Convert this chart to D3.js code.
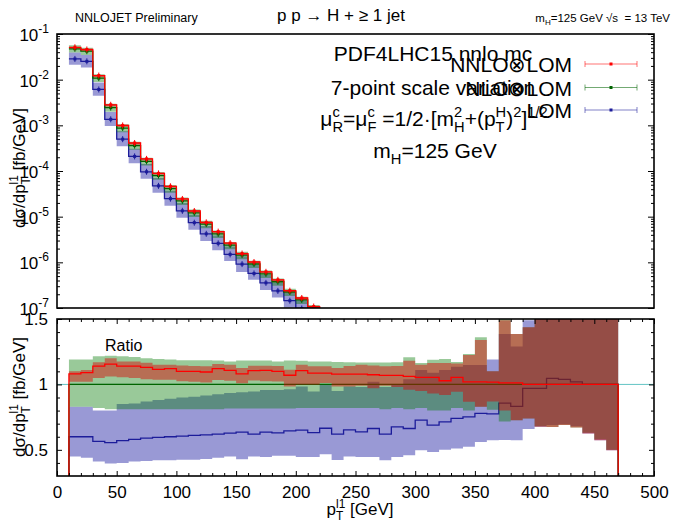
<!DOCTYPE html>
<html lang="en">
<head>
<meta charset="utf-8">
<title>pp -> H + jet, leading jet pT</title>
<script src="https://d3js.org/d3.v7.min.js"></script>
<style>
  body { margin: 0; background: #fff; }
  text { font-family: "Liberation Sans", Arial, Helvetica, sans-serif; fill: #000; white-space: pre; }
</style>
</head>
<body>
<script>
// bin edges of the leading jet pT [GeV]
var edges = [10, 20, 30, 40, 50, 60, 70, 80, 90, 100, 110, 120, 130, 140, 150, 160, 170, 180, 190, 200,
             210, 220, 230, 240, 250, 260, 270, 280, 290, 300, 310, 320, 330, 340, 350, 360, 370, 380, 390, 400,
             410, 420, 430, 440, 450, 460, 470];

// NLO central value in the upper panel [fb/GeV] (below 1e-7 after 220 GeV)
var nloTop = [0.0474, 0.042, 0.0108, 2.44e-3, 8.73e-4, 3.6e-4, 1.63e-4, 7.95e-5, 4.13e-5, 2.22e-5, 1.21e-5,
              6.85e-6, 4.2e-6, 2.38e-6, 1.44e-6, 9.2e-7, 5.6e-7, 3.76e-7, 2.24e-7, 1.5e-7, 9.9e-8, 6.4e-8];

// ratios to NLO central (lower panel)
var rNNLO = [1.08, 1.09, 1.14, 1.155, 1.14, 1.14, 1.13, 1.115, 1.12, 1.10, 1.10, 1.095, 1.12, 1.107, 1.08, 1.105,
             1.107, 1.10, 1.07, 1.105, 1.087, 1.087, 1.079, 1.079, 1.079, 1.074, 1.069, 1.069, 1.061, 1.054, 1.054,
             1.028, 1.054, 1.02, 1.02, 1.018, 1.012, 1.012, 1.0, 1.0, 1.0, 1.0, 1.0, 1.0, 1.0, 1.0];
var nnloLo = [1.02, 1.02, 1.05, 1.06, 1.055, 1.05, 1.04, 1.035, 1.035, 1.025, 1.02, 1.015, 1.033, 1.028, 1.008, 1.03,
              1.025, 1.023, 0.985, 0.997, 0.997, 1.01, 0.985, 0.985, 0.99, 0.97, 0.99, 0.98, 0.96, 0.95, 0.93,
              0.92, 0.944, 0.867, 0.83, 0.87, 0.80, 0.727, 0.74, 0.676, 0.675, 0.69, 0.67, 0.625, 0.574, 0.497];
var nnloHi = [1.10, 1.11, 1.17, 1.20, 1.175, 1.175, 1.165, 1.15, 1.15, 1.145, 1.14, 1.138, 1.156, 1.15, 1.125, 1.143,
              1.143, 1.14, 1.112, 1.15, 1.138, 1.138, 1.125, 1.14, 1.15, 1.145, 1.138, 1.14, 1.18, 1.15, 1.163,
              1.163, 1.16, 1.225, 1.34, 1.10, 1.49, 1.385, 1.436, 1.7, 1.7, 1.7, 1.7, 1.7, 1.7, 1.7];

var rNLO = [1, 1, 1, 1, 1, 1, 1, 1, 1, 1, 1, 1, 1, 1, 1, 1, 1, 1, 1, 1, 1, 1, 1,
            1, 1, 1, 1, 1, 1, 1, 1, 1, 1, 1, 1, 1, 1, 1, 1, 1, 1, 1, 1, 1, 1, 1];
var nloLo = [0.83, 0.83, 0.82, 0.81, 0.81, 0.81, 0.81, 0.81, 0.81, 0.81, 0.81, 0.81, 0.81, 0.815, 0.815, 0.815,
             0.815, 0.815, 0.815, 0.82, 0.82, 0.82, 0.82, 0.82, 0.82, 0.82, 0.81, 0.82, 0.81, 0.82, 0.80,
             0.80, 0.82, 0.80, 0.83, 0.806, 0.717, 0.727, 0.74, 0.68, 0.675, 0.69, 0.67, 0.63, 0.58, 0.50];
var nloHi = [1.19, 1.19, 1.215, 1.22, 1.215, 1.21, 1.20, 1.195, 1.19, 1.185, 1.185, 1.184, 1.182, 1.176, 1.182, 1.182,
             1.182, 1.176, 1.182, 1.18, 1.176, 1.176, 1.171, 1.17, 1.168, 1.168, 1.168, 1.17, 1.207, 1.163, 1.189,
             1.194, 1.171, 1.232, 1.36, 1.10, 1.52, 1.385, 1.436, 1.7, 1.7, 1.7, 1.7, 1.7, 1.7, 1.7];

var rLO = [0.60, 0.60, 0.565, 0.555, 0.57, 0.58, 0.59, 0.595, 0.60, 0.605, 0.61, 0.615, 0.62, 0.627, 0.635, 0.62,
           0.635, 0.63, 0.645, 0.65, 0.632, 0.665, 0.62, 0.653, 0.638, 0.663, 0.62, 0.676, 0.663, 0.727, 0.689,
           0.714, 0.74, 0.752, 0.778, 0.775, 0.857, 0.832, 0.97, 0.97, 1.046, 1.038, 1.02, 1.0, 1.0, 1.0];
var loLo = [0.45, 0.44, 0.41, 0.395, 0.40, 0.41, 0.415, 0.42, 0.42, 0.425, 0.425, 0.43, 0.44, 0.449, 0.428, 0.45,
            0.445, 0.454, 0.454, 0.445, 0.445, 0.466, 0.423, 0.45, 0.446, 0.446, 0.42, 0.446, 0.459, 0.497, 0.484,
            0.50, 0.51, 0.523, 0.56, 0.574, 0.576, 0.574, 0.66, 0.676, 0.69, 0.695, 0.68, 0.625, 0.574, 0.497];
var loHi = [0.83, 0.83, 0.80, 0.80, 0.85, 0.855, 0.87, 0.88, 0.89, 0.90, 0.905, 0.915, 0.925, 0.934, 0.94, 0.946,
            0.958, 0.958, 0.964, 0.985, 0.946, 0.997, 0.95, 0.985, 0.98, 1.02, 0.98, 1.0, 1.04, 1.11, 1.09,
            1.11, 1.135, 1.148, 1.148, 1.19, 1.385, 1.29, 1.49, 1.7, 1.7, 1.7, 1.7, 1.7, 1.7, 1.7];

var legendNames = ["NNLO\u2297LOM", "NLO\u2297LOM", "LOM"];
var yTopTicks = [1e-1, 1e-2, 1e-3, 1e-4, 1e-5, 1e-6, 1e-7];
var yTopExp = ["-1", "-2", "-3", "-4", "-5", "-6", "-7"];
var yRatTicks = [0.5, 1, 1.5];
var xTicks = [0, 50, 100, 150, 200, 250, 300, 350, 400, 450, 500];

var lineCol = { nnlo: "#ff0000", nlo: "#006400", lo: "#1c1c9a" };
var fillCol = { nnlo: "#dc0000", nlo: "#007800", lo: "#000096" };
var fillOp = { nnlo: 0.45, nlo: 0.4, lo: 0.4 };

var W = 675, H = 525;
var svg = d3.select("body").append("svg").attr("width", W).attr("height", H);

var x = d3.scaleLinear().domain([0, 500]).range([57, 654]);
var yTop = d3.scaleLog().domain([1e-7, 1e-1]).range([308, 34]);
var yRat = d3.scaleLinear().domain([0.3, 1.5]).range([476, 319]);

var defs = svg.append("defs");
defs.append("clipPath").attr("id", "clipTop").append("rect")
    .attr("x", x(0)).attr("y", yTop(1e-1)).attr("width", x(500) - x(0)).attr("height", yTop(1e-7) - yTop(1e-1));
defs.append("clipPath").attr("id", "clipRat").append("rect")
    .attr("x", x(0)).attr("y", yRat(1.5)).attr("width", x(500) - x(0)).attr("height", yRat(0.3) - yRat(1.5));

// helpers -------------------------------------------------------------
function bandPath(sc, lo, hi) {
  var pts = [];
  for (var i = 0; i < lo.length; i++) {
    pts.push([edges[i], lo[i], hi[i]]);
    pts.push([edges[i + 1], lo[i], hi[i]]);
  }
  return d3.area().x(function(d) { return x(d[0]); })
    .y0(function(d) { return sc(d[1]); }).y1(function(d) { return sc(d[2]); })(pts);
}
function stepPath(sc, vals, floor) {
  var pts = [];
  if (floor !== undefined) pts.push([edges[0], floor]);
  for (var i = 0; i < vals.length; i++) {
    pts.push([edges[i], vals[i]]);
    pts.push([edges[i + 1], vals[i]]);
  }
  if (floor !== undefined) pts.push([edges[vals.length], floor]);
  return d3.line().x(function(d) { return x(d[0]); }).y(function(d) { return sc(d[1]); })(pts);
}
// text with stacked sub/superscripts; parts = [[main, sub, sup], ...]
function richText(parent, px, py, parts, size, anchor) {
  var g = parent.append("g");
  var cx = 0, small = size * 0.7;
  parts.forEach(function(p) {
    if (p[0]) {
      var t = g.append("text").attr("x", cx).attr("y", 0).style("font-size", size + "px").text(p[0]);
      cx += t.node().getComputedTextLength();
    }
    var w = 0;
    if (p[1]) {
      var s = g.append("text").attr("x", cx).attr("y", size * 0.3).style("font-size", small + "px").text(p[1]);
      w = s.node().getComputedTextLength();
    }
    if (p[2]) {
      var u = g.append("text").attr("x", cx).attr("y", -size * 0.42).style("font-size", small + "px").text(p[2]);
      w = Math.max(w, u.node().getComputedTextLength());
    }
    cx += w;
  });
  var dx = anchor === "middle" ? -cx / 2 : (anchor === "end" ? -cx : 0);
  g.attr("transform", "translate(" + (px + dx) + "," + py + ")");
  return g;
}

// upper panel ---------------------------------------------------------
function times(r) { return nloTop.map(function(v, i) { return v * r[i]; }); }
var topSeries = {
  lo: { c: times(rLO), lo: times(loLo), hi: times(loHi) },
  nlo: { c: times(rNLO), lo: times(nloLo), hi: times(nloHi) },
  nnlo: { c: times(rNNLO), lo: times(nnloLo), hi: times(nnloHi) }
};
var gTop = svg.append("g").attr("clip-path", "url(#clipTop)");
["lo", "nlo", "nnlo"].forEach(function(k) {
  gTop.append("path").attr("d", bandPath(yTop, topSeries[k].lo, topSeries[k].hi))
    .attr("fill", fillCol[k]).attr("fill-opacity", fillOp[k]).attr("stroke", "none");
  gTop.append("path").attr("d", stepPath(yTop, topSeries[k].c))
    .attr("fill", "none").attr("stroke", lineCol[k]).attr("stroke-width", 1.3);
  topSeries[k].c.forEach(function(v, i) {
    var cx = x((edges[i] + edges[i + 1]) / 2), cy = yTop(v);
    gTop.append("line").attr("x1", cx).attr("x2", cx).attr("y1", cy - 3).attr("y2", cy + 3)
      .attr("stroke", lineCol[k]).attr("stroke-width", 1);
    gTop.append("rect").attr("x", cx - 1.5).attr("y", cy - 1.5).attr("width", 3).attr("height", 3)
      .attr("fill", lineCol[k]);
  });
});

// lower panel: each band is drawn followed by its own line ----------------
var gRat = svg.append("g").attr("clip-path", "url(#clipRat)");
gRat.append("line").attr("x1", x(0)).attr("x2", x(500)).attr("y1", yRat(1)).attr("y2", yRat(1))
  .attr("stroke", "#62c4c4").attr("stroke-width", 1);
[["lo", loLo, loHi, rLO], ["nlo", nloLo, nloHi, rNLO], ["nnlo", nnloLo, nnloHi, rNNLO]].forEach(function(b) {
  gRat.append("path").attr("d", bandPath(yRat, b[1], b[2]))
    .attr("fill", fillCol[b[0]]).attr("fill-opacity", fillOp[b[0]]).attr("stroke", "none");
  gRat.append("path").attr("d", stepPath(yRat, b[3], 0))
    .attr("fill", "none").attr("stroke", lineCol[b[0]]).attr("stroke-width", 1.3);
});
svg.append("text").attr("x", 105).attr("y", 351).style("font-size", "16px").text("Ratio");

// axes ----------------------------------------------------------------
function styleAxis(g) {
  g.select(".domain").remove();
  g.selectAll(".tick line").attr("stroke", "#000").attr("stroke-width", 1);
  g.selectAll("text").style("font-family", "'Liberation Sans', Arial, sans-serif").style("font-size", "17px");
}
var minorX = [];
xTicks.forEach(function(t) { if (t < 500) [10, 20, 30, 40].forEach(function(m) { minorX.push(t + m); }); });
var minorR = [0.4, 0.6, 0.7, 0.8, 0.9, 1.1, 1.2, 1.3, 1.4];
var minorL = [];
yTopTicks.forEach(function(t) { if (t < 1e-1) for (var m = 2; m <= 9; m++) minorL.push(t * m); });

// upper y axes
svg.append("g").attr("transform", "translate(" + x(0) + ",0)")
  .call(d3.axisLeft(yTop).tickValues(yTopTicks).tickSize(-6).tickFormat("")).call(styleAxis);
svg.append("g").attr("transform", "translate(" + x(0) + ",0)")
  .call(d3.axisLeft(yTop).tickValues(minorL).tickSize(-3).tickFormat("")).call(styleAxis);
svg.append("g").attr("transform", "translate(" + x(500) + ",0)")
  .call(d3.axisRight(yTop).tickValues(yTopTicks).tickSize(-6).tickFormat("")).call(styleAxis);
svg.append("g").attr("transform", "translate(" + x(500) + ",0)")
  .call(d3.axisRight(yTop).tickValues(minorL).tickSize(-3).tickFormat("")).call(styleAxis);
yTopTicks.forEach(function(t, i) {
  var tx = svg.append("text").attr("x", 49).attr("y", yTop(t) + 7).attr("text-anchor", "end")
    .style("font-size", "17px").text("10");
  tx.append("tspan").attr("dy", -8).style("font-size", "12px").text(yTopExp[i]);
});

// lower axes
svg.append("g").attr("transform", "translate(0," + yRat(0.3) + ")")
  .call(d3.axisBottom(x).tickValues(xTicks).tickSize(-5).tickPadding(10).tickFormat(d3.format("d"))).call(styleAxis);
svg.append("g").attr("transform", "translate(0," + yRat(0.3) + ")")
  .call(d3.axisBottom(x).tickValues(minorX).tickSize(-3).tickFormat("")).call(styleAxis);
svg.append("g").attr("transform", "translate(0," + yRat(1.5) + ")")
  .call(d3.axisTop(x).tickValues(xTicks).tickSize(-5).tickFormat("")).call(styleAxis);
svg.append("g").attr("transform", "translate(0," + yRat(1.5) + ")")
  .call(d3.axisTop(x).tickValues(minorX).tickSize(-3).tickFormat("")).call(styleAxis);
svg.append("g").attr("transform", "translate(" + x(0) + ",0)")
  .call(d3.axisLeft(yRat).tickValues(yRatTicks).tickSize(-5).tickPadding(9).tickFormat(d3.format(""))).call(styleAxis);
svg.append("g").attr("transform", "translate(" + x(0) + ",0)")
  .call(d3.axisLeft(yRat).tickValues(minorR).tickSize(-3).tickFormat("")).call(styleAxis);
svg.append("g").attr("transform", "translate(" + x(500) + ",0)")
  .call(d3.axisRight(yRat).tickValues(yRatTicks).tickSize(-5).tickFormat("")).call(styleAxis);
svg.append("g").attr("transform", "translate(" + x(500) + ",0)")
  .call(d3.axisRight(yRat).tickValues(minorR).tickSize(-3).tickFormat("")).call(styleAxis);

// frames
[[yTop(1e-1), yTop(1e-7)], [yRat(1.5), yRat(0.3)]].forEach(function(r) {
  svg.append("rect").attr("x", x(0)).attr("y", r[0]).attr("width", x(500) - x(0)).attr("height", r[1] - r[0])
    .attr("fill", "none").attr("stroke", "#000").attr("stroke-width", 1.6);
});

// axis titles
var yTitle = [["d\u03c3/dp", "T", "l1"], ["\u00a0[fb/GeV]", null, null]];
richText(svg.append("g").attr("transform", "translate(25,168) rotate(-90)"), 0, 0, yTitle, 17, "middle");
richText(svg.append("g").attr("transform", "translate(25,397) rotate(-90)"), 0, 0, yTitle, 17, "middle");
richText(svg, 360, 515, [["p", "T", "l1"], ["\u00a0[GeV]", null, null]], 17, "middle");

// header
svg.append("text").attr("x", 75).attr("y", 22).style("font-size", "12.5px").text("NNLOJET Preliminary");
svg.append("text").attr("x", 341).attr("y", 21).attr("text-anchor", "middle").style("font-size", "17px")
  .text("p p \u2192 H + \u2265 1 jet");
richText(svg, 670, 22, [["m", "H", null], ["=125 GeV \u221as\u00a0\u00a0= 13 TeV", null, null]], 11.5, "end");

// info block
svg.append("text").attr("x", 433).attr("y", 61).attr("text-anchor", "middle").style("font-size", "21px")
  .text("PDF4LHC15 nnlo mc");
svg.append("text").attr("x", 433).attr("y", 95).attr("text-anchor", "middle").style("font-size", "21px")
  .text("7-point scale variation");
richText(svg, 434, 126, [["\u03bc", "R", "c"], ["=\u03bc", "F", "c"], ["\u00a0=1/2\u00b7[m", "H", "2"],
  ["+(p", "T", "H"], [")", null, "2"], ["]", null, "1/2"]], 21, "middle");
richText(svg, 435, 158, [["m", "H", null], ["=125 GeV", null, null]], 21, "middle");

// legend
var legY = [64, 87.5, 110];
["nnlo", "nlo", "lo"].forEach(function(k, i) {
  svg.append("text").attr("x", 572).attr("y", legY[i] + 8).attr("text-anchor", "end")
    .style("font-size", "21px").text(legendNames[i]);
  var g = svg.append("g").attr("stroke", lineCol[k]).attr("stroke-opacity", 0.55).attr("stroke-width", 1);
  g.append("line").attr("x1", 585).attr("x2", 637).attr("y1", legY[i]).attr("y2", legY[i]);
  g.append("line").attr("x1", 585).attr("x2", 585).attr("y1", legY[i] - 3).attr("y2", legY[i] + 3);
  g.append("line").attr("x1", 637).attr("x2", 637).attr("y1", legY[i] - 3).attr("y2", legY[i] + 3);
  svg.append("rect").attr("x", 609.5).attr("y", legY[i] - 1.5).attr("width", 3).attr("height", 3).attr("fill", lineCol[k]);
});
</script>
</body>
</html>
